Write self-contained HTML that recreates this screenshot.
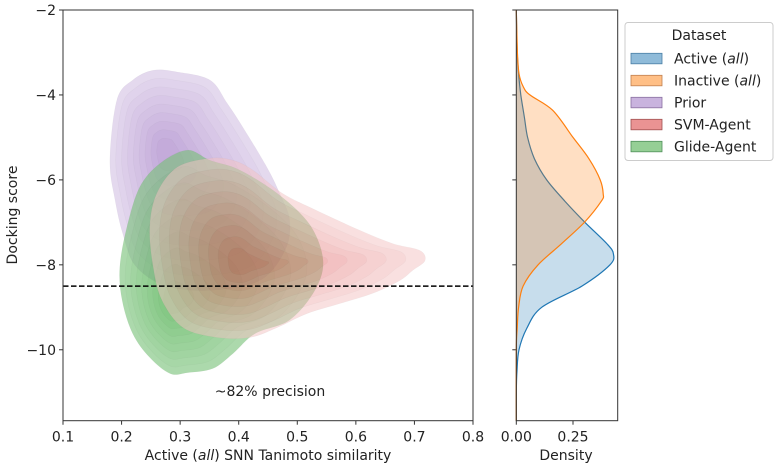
<!DOCTYPE html>
<html><head><meta charset="utf-8">
<style>
body{margin:0;background:#fff;}
svg text{font-family:"DejaVu Sans","Liberation Sans",sans-serif;fill:#222;}
</style></head>
<body>
<svg id="chart" width="778" height="467" viewBox="0 0 778 467" xmlns="http://www.w3.org/2000/svg">
<g id="main"></g>
<g id="side"></g>
<g id="legend"></g>
</svg>
<script>
// ---- data ----
const xTicks = [0.1,0.2,0.3,0.4,0.5,0.6,0.7,0.8];
const yTicks = [-2,-4,-6,-8,-10];
const densTicks = [0.00,0.25];
const threshold = -8.5;
const precisionLabel = "~82% precision";

const priorX = [0.192,0.180,0.189,0.202,0.223,0.274,0.351,0.436,0.479,0.487,0.470,0.448,0.407,0.380,0.351,0.295,0.254,0.219];
const priorY = [-4.12,-5.54,-6.48,-7.26,-8.01,-8.49,-8.60,-8.37,-7.66,-6.95,-6.32,-5.70,-4.76,-4.19,-3.65,-3.46,-3.42,-3.65];
const priorPeak = [0.274,-5.3];

const svmX = [0.351,0.295,0.260,0.248,0.254,0.269,0.305,0.363,0.419,0.465,0.516,0.573,0.629,0.675,0.697,0.718,0.709,0.663,0.607,0.533,0.475,0.424,0.390];
const svmY = [-5.49,-5.70,-6.32,-7.12,-8.06,-8.84,-9.48,-9.71,-9.71,-9.48,-9.15,-8.91,-8.67,-8.37,-8.13,-7.90,-7.66,-7.50,-7.19,-6.72,-6.32,-5.77,-5.54];
const svmPeak = [0.405,-7.97];

const glideX = [0.312,0.266,0.231,0.209,0.197,0.201,0.219,0.248,0.283,0.312,0.356,0.390,0.428,0.487,0.530,0.544,0.522,0.470,0.402,0.351];
const glideY = [-5.30,-5.61,-6.17,-7.12,-8.06,-8.84,-9.62,-10.18,-10.56,-10.54,-10.44,-10.09,-9.62,-9.3,-8.6,-7.9,-7.07,-6.36,-5.77,-5.54];
const glidePeak = [0.285,-8.9];

const densScore = [-2,-3,-3.5,-4,-4.5,-5,-5.5,-6,-6.5,-7,-7.5,-7.74,-8,-8.5,-9,-9.5,-10,-10.5,-11,-11.67];
const activeDens = [0,0.004,0.01,0.02,0.035,0.05,0.08,0.134,0.214,0.303,0.399,0.428,0.413,0.289,0.112,0.046,0.012,0.003,0.0,0];
const inactiveScore = [-2,-3,-3.5,-3.8,-4,-4.36,-5,-5.5,-6,-6.33,-6.5,-7,-7.5,-8,-8.5,-9,-9.5,-10,-11.67];
const inactiveDens = [0,0.005,0.012,0.03,0.06,0.16,0.25,0.32,0.37,0.383,0.375,0.30,0.20,0.096,0.03,0.01,0.004,0,0];

const legendLabels = ["Active (all)","Inactive (all)","Prior","SVM-Agent","Glide-Agent"];

// ---- axes ----
const X0=63, X1=473, Y0=10, Y1=420.7;
const xMin=0.1,xMax=0.8,yMin=-11.67,yMax=-2;
const sx=v=>X0+(v-xMin)/(xMax-xMin)*(X1-X0);
const sy=v=>Y0+(yMax-v)/(yMax-yMin)*(Y1-Y0);
const D0=516.3,D1=617.7,dMax=0.447;
const sd=v=>D0+v/dMax*(D1-D0);
const NS="http://www.w3.org/2000/svg";
function mk(tag,attrs,parent){const e=document.createElementNS(NS,tag);for(const k in attrs)e.setAttribute(k,attrs[k]);parent.appendChild(e);return e;}

function smoothClosed(pts){
  let d="";const n=pts.length;
  for(let i=0;i<n;i++){
    const p0=pts[(i-1+n)%n],p1=pts[i],p2=pts[(i+1)%n],p3=pts[(i+2)%n];
    if(i===0)d+="M"+p1[0].toFixed(1)+","+p1[1].toFixed(1);
    const c1=[p1[0]+(p2[0]-p0[0])/6,p1[1]+(p2[1]-p0[1])/6];
    const c2=[p2[0]-(p3[0]-p1[0])/6,p2[1]-(p3[1]-p1[1])/6];
    d+="C"+c1[0].toFixed(1)+","+c1[1].toFixed(1)+" "+c2[0].toFixed(1)+","+c2[1].toFixed(1)+" "+p2[0].toFixed(1)+","+p2[1].toFixed(1);
  }
  return d+"Z";
}
function smoothOpen(pts){
  let d="M"+pts[0][0].toFixed(1)+","+pts[0][1].toFixed(1);const n=pts.length;
  for(let i=0;i<n-1;i++){
    const p0=pts[Math.max(i-1,0)],p1=pts[i],p2=pts[i+1],p3=pts[Math.min(i+2,n-1)];
    const c1=[p1[0]+(p2[0]-p0[0])/6,p1[1]+(p2[1]-p0[1])/6];
    const c2=[p2[0]-(p3[0]-p1[0])/6,p2[1]-(p3[1]-p1[1])/6];
    d+="C"+c1[0].toFixed(1)+","+c1[1].toFixed(1)+" "+c2[0].toFixed(1)+","+c2[1].toFixed(1)+" "+p2[0].toFixed(1)+","+p2[1].toFixed(1);
  }
  return d;
}
function mix(base,t){return 'rgb('+base.map(c=>Math.round(255+(c-255)*t)).join(',')+')';}

const main=document.getElementById('main');
function kde(xs,ys,peak,base,t0,t1,groupOp,name){
  const g=mk('g',{opacity:groupOp},main);
  
  
  const levels=9;
  for(let k=0;k<levels;k++){
    const f=1-k/(levels+0.4);
    const t=t0+(t1-t0)*k/(levels-1);
    const pts=xs.map((x,i)=>[sx(peak[0]+(x-peak[0])*f),sy(peak[1]+(ys[i]-peak[1])*f)]);
    const p=mk('path',{d:smoothClosed(pts),fill:mix(base,t),stroke:'rgba(0,0,0,0.06)','stroke-width':0.6},g);
    
    
  }
}
kde(priorX,priorY,priorPeak,[148,103,189],0.45,1.0,0.55,'prior-kde');
kde(glideX,glideY,glidePeak,[44,160,44],0.65,1.0,0.6,'glide-agent-kde');
kde(svmX,svmY,svmPeak,[214,39,40],0.28,0.85,0.5,'svm-agent-kde');

// threshold line
const th=mk('line',{x1:X0,x2:X1,y1:sy(threshold),y2:sy(threshold),stroke:'#000','stroke-width':1.5,'stroke-dasharray':'5.5,2.5'},main);


const pl=mk('text',{x:270,y:396,'text-anchor':'middle','font-size':14},main);
pl.textContent=precisionLabel;



// frame main
const fr=mk('rect',{x:X0,y:Y0,width:X1-X0,height:Y1-Y0,fill:'none',stroke:'#333','stroke-width':1},main);


xTicks.forEach(t=>{
  mk('line',{x1:sx(t),x2:sx(t),y1:Y1,y2:Y1+4,stroke:'#333'},main);
  const tx=mk('text',{x:sx(t),y:Y1+21,'text-anchor':'middle','font-size':14},main);
  tx.textContent=t.toFixed(1);
  
  
});
yTicks.forEach(t=>{
  mk('line',{x1:X0-4,x2:X0,y1:sy(t),y2:sy(t),stroke:'#333'},main);
  const tx=mk('text',{x:X0-7,y:sy(t)+5,'text-anchor':'end','font-size':14},main);
  tx.textContent='\u2212'+Math.abs(t);
  
  
  mk('line',{x1:D0-4,x2:D0,y1:sy(t),y2:sy(t),stroke:'#333'},main);
});
const xl=mk('text',{x:268,y:460,'text-anchor':'middle','font-size':14},main);
xl.innerHTML='Active (<tspan font-style="italic">all</tspan>) SNN Tanimoto similarity';


const yl=mk('text',{x:0,y:0,'text-anchor':'middle','font-size':14,transform:'translate(17,215) rotate(-90)'},main);
yl.textContent='Docking score';



// side densities
const side=document.getElementById('side');
function dens(scores,vals,color,name){
  const pts=scores.map((s,i)=>[sd(vals[i]),sy(s)]);
  const line=smoothOpen(pts);
  const a=mk('path',{d:line+"L"+D0+","+sy(scores[scores.length-1])+"L"+D0+","+sy(scores[0])+"Z",fill:color,'fill-opacity':0.25,stroke:'none'},side);
  
  
  const l=mk('path',{d:line,fill:'none',stroke:color,'stroke-width':1.2},side);
  
  
}
dens(densScore,activeDens,'#1f77b4','active-density');
dens(inactiveScore,inactiveDens,'#ff7f0e','inactive-density');
const fr2=mk('rect',{x:D0,y:Y0,width:D1-D0,height:Y1-Y0,fill:'none',stroke:'#333','stroke-width':1},side);


densTicks.forEach(t=>{
  mk('line',{x1:sd(t),x2:sd(t),y1:Y1,y2:Y1+4,stroke:'#333'},side);
  const tx=mk('text',{x:sd(t),y:Y1+21,'text-anchor':'middle','font-size':14},side);
  tx.textContent=t.toFixed(2);
  
  
});
const dl=mk('text',{x:566,y:460,'text-anchor':'middle','font-size':14},side);
dl.textContent='Density';



// legend
const lg=document.getElementById('legend');
const lbox=mk('rect',{x:625,y:22.5,width:148,height:138,rx:3,fill:'#fff',stroke:'#ccc','stroke-width':1},lg);


const lt=mk('text',{x:699,y:40,'text-anchor':'middle','font-size':14},lg);
lt.textContent='Dataset';


const lcol=['#8fbbd9','#ffbf86','#c9b3de','#ea9393','#95cf95'];
const lstroke=['#4a7fa6','#c08050','#8a70a0','#a05050','#50905a'];
legendLabels.forEach((lab,i)=>{
  const y=58.3+i*22;
  const r=mk('rect',{x:631,y:y-5,width:31,height:10.5,fill:lcol[i],stroke:lstroke[i],'stroke-width':0.8},lg);
  
  
  const t=mk('text',{x:674,y:y+5,'font-size':14},lg);
  const m=lab.match(/^(.*)\((all)\)$/);
  if(m){t.innerHTML=m[1]+'(<tspan font-style="italic">all</tspan>)';}else t.textContent=lab;
  
  
});
</script>
</body></html>
